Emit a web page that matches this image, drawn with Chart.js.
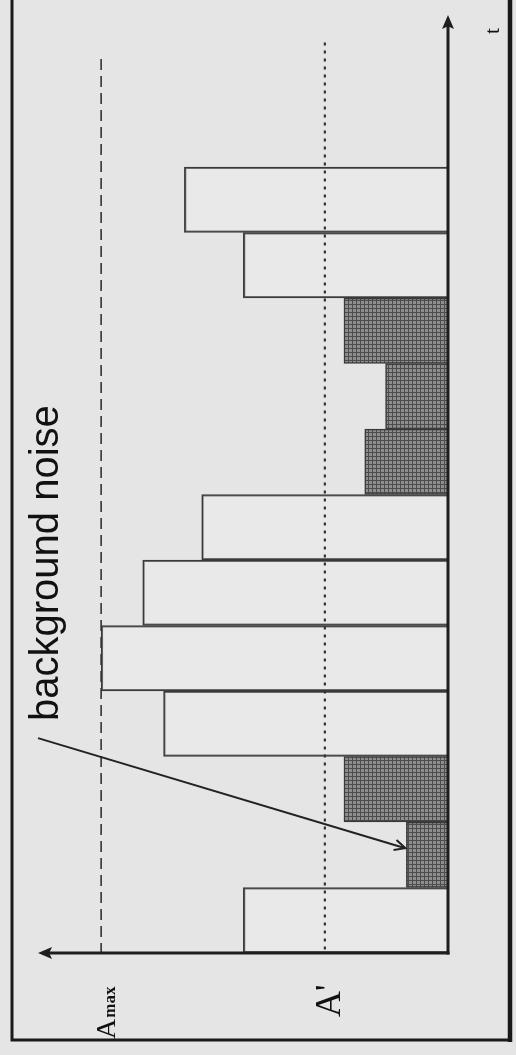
<!DOCTYPE html>
<html>
<head>
<meta charset="utf-8">
<script src="https://cdn.jsdelivr.net/npm/chart.js@4.4.1/dist/chart.umd.min.js"></script>
<style>
  html, body { margin: 0; padding: 0; background: #e5e5e5; }
  #wrap { width: 516px; height: 1055px; }
</style>
</head>
<body>
<div id="wrap"><canvas id="chart" width="516" height="1055"></canvas></div>
<script>
// time slots (centre of each sample window, t axis)
const timeSlots = [0.5, 1.5, 2.5, 3.5, 4.5, 5.5, 6.5, 7.5, 8.5, 9.5, 10.5, 11.5];
// amplitude of each sample window
const amplitudes = [5.9, 1.2, 3.0, 8.2, 10.0, 8.8, 7.1, 2.4, 1.8, 3.0, 5.9, 7.6];
// threshold levels
const A_MAX = 10;
const A_PRIME = 3.55;
const AMP_AXIS_MAX = 11.82;
const T_AXIS_MAX = 14.32;

const canvas = document.getElementById('chart');
const ctx = canvas.getContext('2d');

// dark cross-hatched fill for the noise windows
function makeHatch() {
    const tile = document.createElement('canvas');
    tile.width = 4;
    tile.height = 4;
    const g = tile.getContext('2d');
    g.fillStyle = '#8e8e8e';
    g.fillRect(0, 0, 4, 4);
    g.fillStyle = '#4c4c4c';
    g.fillRect(0, 0, 4, 1);
    g.fillRect(0, 0, 1, 4);
    return ctx.createPattern(tile, 'repeat');
}
const hatch = makeHatch();

function arrowHead(c, x, y, angle, len, half) {
    c.save();
    c.translate(x, y);
    c.rotate(angle);
    c.beginPath();
    c.moveTo(0, 0);
    c.lineTo(-len, -half);
    c.lineTo(-len * 0.8, 0);
    c.lineTo(-len, half);
    c.closePath();
    c.fill();
    c.restore();
}

function rotatedText(c, text, x, y, font) {
    c.save();
    c.translate(x, y);
    c.rotate(-Math.PI / 2);
    c.font = font;
    c.textAlign = 'left';
    c.textBaseline = 'alphabetic';
    c.fillText(text, 0, 0);
    const w = c.measureText(text).width;
    c.restore();
    return w;
}

const paper = {
    id: 'paper',
    beforeDraw(chart) {
        const c = chart.ctx;
        c.save();
        c.fillStyle = '#e5e5e5';
        c.fillRect(0, 0, chart.width, chart.height);
        c.restore();
    },
    afterDatasetsDraw(chart) {
        const c = chart.ctx;
        const xs = chart.scales.x;
        const ys = chart.scales.y;
        const x0 = xs.getPixelForValue(0);
        const y0 = ys.getPixelForValue(0);
        c.save();

        // A_max dashed line
        const xMax = xs.getPixelForValue(A_MAX);
        c.strokeStyle = '#333';
        c.lineWidth = 1.6;
        c.setLineDash([11, 6]);
        c.beginPath();
        c.moveTo(xMax, ys.getPixelForValue(13.65));
        c.lineTo(xMax, y0);
        c.stroke();

        // A' dotted line
        const xPr = xs.getPixelForValue(A_PRIME);
        c.lineWidth = 2.2;
        c.setLineDash([3, 5]);
        c.beginPath();
        c.moveTo(xPr, ys.getPixelForValue(13.9));
        c.lineTo(xPr, y0);
        c.stroke();
        c.setLineDash([]);

        // axes with arrows
        c.strokeStyle = '#1e1e1e';
        c.fillStyle = '#1e1e1e';
        c.lineWidth = 3;
        c.beginPath();
        c.moveTo(x0, y0 + 1.5);
        c.lineTo(x0, ys.top + 8);
        c.stroke();
        arrowHead(c, x0, ys.top, -Math.PI / 2, 14, 6);
        c.beginPath();
        c.moveTo(x0 + 1.5, y0);
        c.lineTo(xs.left + 8, y0);
        c.stroke();
        arrowHead(c, xs.left, y0, Math.PI, 14, 6);

        // annotation arrow into the second window
        const target = chart.getDatasetMeta(0).data[1];
        const sx = 38, sy = ys.getPixelForValue(3.28);
        const tx = target.x - 1, ty = ys.getPixelForValue(1.6);
        c.lineWidth = 2;
        c.strokeStyle = '#222';
        c.beginPath();
        c.moveTo(sx, sy);
        c.lineTo(tx, ty);
        c.stroke();
        const ang = Math.atan2(ty - sy, tx - sx);
        c.beginPath();
        c.moveTo(tx - 12 * Math.cos(ang - 0.45), ty - 12 * Math.sin(ang - 0.45));
        c.lineTo(tx, ty);
        c.lineTo(tx - 12 * Math.cos(ang + 0.45), ty - 12 * Math.sin(ang + 0.45));
        c.stroke();

        // texts
        c.fillStyle = '#111';
        rotatedText(c, 'background noise', 58, 721, '40px "Liberation Sans", Arial, sans-serif');
        const wA = rotatedText(c, 'A', 115, 1039, '28px "Liberation Serif", "Times New Roman", serif');
        rotatedText(c, 'max', 115, 1039 - wA - 1, 'bold 17px "Liberation Serif", "Times New Roman", serif');
        rotatedText(c, "A'", 340, 1017, '36px "Liberation Serif", "Times New Roman", serif');
        rotatedText(c, 't', 499, 34, '22px "Liberation Serif", "Times New Roman", serif');

        // frame
        c.strokeStyle = '#1a1a1a';
        c.lineWidth = 3;
        c.beginPath();
        c.moveTo(12, 0);
        c.lineTo(12, 1040);
        c.lineTo(511, 1040);
        c.stroke();
        c.lineWidth = 4.5;
        c.beginPath();
        c.moveTo(510, 0);
        c.lineTo(510, 1042);
        c.stroke();

        c.restore();
    }
};

new Chart(ctx, {
    type: 'bar',
    data: {
        datasets: [{
            data: timeSlots.map((t, i) => ({ x: amplitudes[i], y: t })),
            backgroundColor: (context) => {
                const v = context.raw ? context.raw.x : 0;
                return v < A_PRIME ? hatch : 'rgba(240, 240, 240, 0.35)';
            },
            borderColor: '#3a3a3a',
            borderWidth: 1.6,
            barPercentage: 1,
            categoryPercentage: 1
        }]
    },
    options: {
        indexAxis: 'y',
        responsive: false,
        animation: false,
        devicePixelRatio: 1,
        layout: {
            padding: { left: 38, right: 68, top: 15, bottom: 102 }
        },
        plugins: {
            legend: { display: false },
            tooltip: { enabled: false }
        },
        scales: {
            x: {
                type: 'linear',
                reverse: true,
                min: 0,
                max: AMP_AXIS_MAX,
                display: false
            },
            y: {
                type: 'linear',
                min: 0,
                max: T_AXIS_MAX,
                offset: false,
                ticks: { stepSize: 1, includeBounds: false },
                display: false
            }
        }
    },
    plugins: [paper]
});
</script>
</body>
</html>
